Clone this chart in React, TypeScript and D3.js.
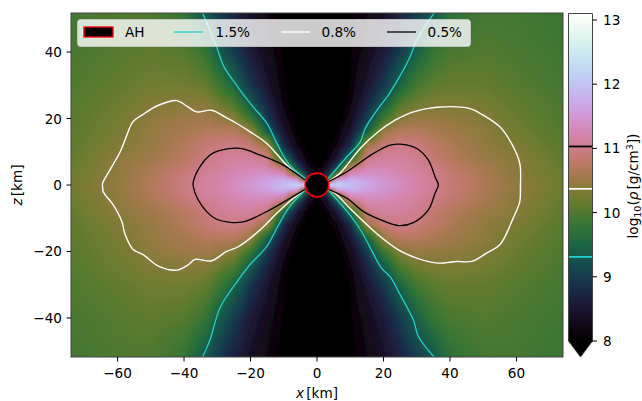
import React, { useMemo } from "react";
import * as d3 from "d3";

const xTicks = [-60, -40, -20, 0, 20, 40, 60];
const zTicks = [-40, -20, 0, 20, 40];
const cbTicks = [8, 9, 10, 11, 12, 13];
const levels = { black: 11.03, white: 10.37, cyan: 9.31 };
const ahRadius = 3.55;

// log10(rho), one quadrant (|x|, |z|), on a non-uniform mesh
const xNodes = [0, 3, 6, 10, 15, 20, 25, 30, 35, 40, 50, 60, 74];
const zNodes = [0, 1.5, 3, 5, 8, 12, 16, 20, 25, 30, 40, 52];
const densityRows = [
  [12.5, 12.4, 12.25, 11.95, 11.7, 11.5, 11.35, 11.2, 11.07, 10.9, 10.65, 10.43, 10.2],
  [8.0, 9.5, 11.6, 11.8, 11.62, 11.47, 11.33, 11.18, 11.05, 10.9, 10.65, 10.42, 10.2],
  [8.0, 8.8, 10.3, 11.4, 11.45, 11.38, 11.28, 11.15, 11.02, 10.88, 10.63, 10.4, 10.18],
  [8.0, 8.4, 9.25, 10.85, 11.25, 11.28, 11.2, 11.1, 10.98, 10.82, 10.6, 10.4, 10.15],
  [7.9, 8.1, 8.55, 9.6, 11.0, 11.12, 11.12, 11.05, 10.85, 10.72, 10.52, 10.38, 10.12],
  [7.9, 8.0, 8.2, 8.8, 10.5, 10.85, 11.0, 10.93, 10.78, 10.65, 10.45, 10.3, 10.07],
  [7.8, 7.9, 8.05, 8.5, 9.45, 10.5, 10.72, 10.72, 10.63, 10.55, 10.42, 10.23, 10.03],
  [7.7, 7.8, 7.95, 8.3, 9.0, 9.85, 10.37, 10.5, 10.48, 10.45, 10.35, 10.18, 10.0],
  [7.6, 7.7, 7.85, 8.15, 8.7, 9.31, 9.95, 10.2, 10.28, 10.3, 10.25, 10.12, 9.97],
  [7.5, 7.6, 7.8, 8.1, 8.5, 8.95, 9.5, 9.93, 10.1, 10.15, 10.15, 10.05, 9.93],
  [7.4, 7.5, 7.7, 8.05, 8.3, 8.6, 9.0, 9.45, 9.8, 9.97, 10.03, 9.97, 9.88],
  [7.3, 7.4, 7.7, 8.0, 8.2, 8.4, 8.7, 9.0, 9.31, 9.7, 9.92, 9.92, 9.83],
];
// the left half is a little denser beyond the mesh seam near x = -31.7
const seamX = -31.7;
const seamZ = [0, 8, 16, 20, 30, 52];
const seamOffset = [0.03, 0.03, 0.05, 0.07, 0.08, 0.08];

type P = [number, number];
const cyanUL: P[] = [[-34.4, 51.7], [-30.2, 41.6], [-28.2, 36], [-24.2, 30], [-19.2, 23.5], [-15.1, 18.6], [-12.1, 12.6], [-8.7, 6.6], [-3.6, 2]];
const cyanUR: P[] = [[35.2, 51.7], [30, 43.6], [28, 38.6], [24.5, 32], [21.4, 27], [18.4, 23], [14.5, 17], [13, 13], [9, 8.5], [3.4, 2]];
const cyanLL: P[] = [[-34.4, -51.7], [-32.2, -46.6], [-29.2, -37], [-24.7, -30], [-20.2, -24], [-15.1, -18.5], [-12.1, -13], [-8.6, -7], [-3.6, -1.5]];
const cyanLR: P[] = [[3.4, -1.5], [9.9, -9], [13.4, -14], [19.4, -25], [22, -27.6], [25, -33], [29, -40.6], [30.5, -45.6], [35.2, -51.7]];
const whiteL: P[] = [[-3.6, 1.5], [-9.1, 6], [-15.1, 12.5], [-20.1, 16], [-24.1, 18.5], [-27.7, 20.5], [-31.7, 22.5], [-36.2, 22], [-38.7, 23.4], [-42.2, 25.4], [-47.7, 24], [-52.7, 21], [-55.4, 19], [-57.2, 15], [-59.2, 10], [-62.3, 4.5], [-64.5, 0.5], [-64.5, -0.5], [-64.3, -2], [-61.3, -6], [-58.7, -11], [-57.7, -15], [-55.4, -19.3], [-52.2, -21], [-47.7, -24.4], [-42.2, -25.6], [-38.7, -24], [-36.7, -22.4], [-31.7, -22.8], [-27.2, -20], [-23.6, -18.5], [-17.1, -13.5], [-12.1, -8.5], [-7.1, -4], [-3.6, -1.3]];
const whiteR: P[] = [[3.4, 1], [6.9, 3.5], [13, 11], [18.4, 16], [23.5, 19.5], [29, 22], [36, 23.4], [46, 23], [50, 21], [55, 17.5], [58.5, 12.5], [61, 6.5], [61.2, -0.5], [61.2, -1.5], [61, -5], [59, -10], [55, -18], [51, -20.5], [46.5, -23], [42, -23], [36.5, -23.5], [30, -22], [24.5, -19.5], [19, -15.5], [14, -11], [10.4, -7.5], [5.4, -2.5], [3.4, -1.3]];
const blackL: P[] = [[-3.6, 1.5], [-10.1, 6], [-17.1, 9], [-23.1, 11], [-29.7, 10.3], [-32.2, 9], [-35.2, 5.5], [-37.2, 1], [-37.2, -0.5], [-36, -4], [-33.2, -8], [-30.2, -10.3], [-22.7, -11.2], [-16.1, -8.5], [-8.1, -4], [-3.6, -1.3]];
const blackR: P[] = [[3.4, 1], [9, 4], [17, 9.5], [22, 12], [25, 12.3], [30, 11], [33.5, 7.5], [35.5, 2.5], [36.5, 0], [35.5, -2.5], [33.5, -7.5], [29, -11.3], [24.5, -12.2], [20.5, -11], [14, -8], [9, -4], [3.4, -1.3]];

const FONT = "'DejaVu Sans'";
const INK = "#000";
const SPINE = "#444";
const TEXT_SIZE = 13.6;
const CYAN = "#22cfcf";

const x = d3.scaleLinear().domain([-74, 74]).range([71, 563]);
const z = d3.scaleLinear().domain([-51.75, 51.75]).range([357, 13]);
const cb = d3.scaleLinear().domain([8, 13]).range([341, 20]);
const color = d3.scaleSequential(d3.interpolateCubehelixDefault).domain([8, 13.1]).clamp(true);
const path = d3.line<P>().x((d) => x(d[0])).y((d) => z(d[1])).curve(d3.curveCatmullRom.alpha(0.5));

function fieldImage() {
  const x0 = Math.round(x(-80)), x1 = Math.round(x(80));
  const y0 = Math.round(z(58)), y1 = Math.round(z(-58));
  const w = x1 - x0, h = y1 - y0;
  const canvas = document.createElement("canvas");
  canvas.width = w;
  canvas.height = h;
  const ctx = canvas.getContext("2d")!;
  const img = ctx.createImageData(w, h);
  const rowScales = densityRows.map((r) => d3.scaleLinear().domain(xNodes).range(r).clamp(true));
  const seam = d3.scaleLinear().domain(seamZ).range(seamOffset).clamp(true);
  for (let i = 0; i < w; i++) {
    const kmX = x.invert(x0 + i + 0.5);
    const ax = Math.abs(kmX);
    const col = rowScales.map((s) => s(ax));
    const colScale = d3.scaleLinear().domain(zNodes).range(col).clamp(true);
    for (let j = 0; j < h; j++) {
      const az = Math.abs(z.invert(y0 + j + 0.5));
      const v = colScale(az) + (kmX < seamX ? seam(az) : 0);
      const c = d3.rgb(color(v) as string);
      const k = (j * w + i) * 4;
      img.data[k] = c.r;
      img.data[k + 1] = c.g;
      img.data[k + 2] = c.b;
      img.data[k + 3] = 255;
    }
  }
  ctx.putImageData(img, 0, 0);
  return { href: canvas.toDataURL("image/png"), x0, y0, w, h };
}

export default function App() {
  const field = useMemo(fieldImage, []);
  const cbRows = d3.range(13.5, 341, 1);
  const tickText = (v: number) => (v < 0 ? "\u2212" + Math.abs(v) : String(v));
  return (
    <svg width={642} height={401} style={{ position: "fixed", left: 0, top: 0 }} fontFamily={FONT}>
      <defs>
        <clipPath id="plot"><rect x={71} y={13} width={492} height={344} /></clipPath>
        <filter id="soft" x="0" y="0" width="100%" height="100%"><feGaussianBlur stdDeviation="1.3" /></filter>
      </defs>
      <rect width={642} height={401} fill="#fff" />
      <g clipPath="url(#plot)">
        <image href={field.href} x={field.x0} y={field.y0} width={field.w} height={field.h} filter="url(#soft)" />
        {[cyanUL, cyanUR, cyanLL, cyanLR].map((d, i) => (
          <path key={i} d={path(d)!} fill="none" stroke={CYAN} strokeWidth={1.3} />
        ))}
        {[whiteL, whiteR].map((d, i) => (
          <path key={i} d={path(d)!} fill="none" stroke="#fff" strokeWidth={1.4} />
        ))}
        {[blackL, blackR].map((d, i) => (
          <path key={i} d={path(d)!} fill="none" stroke="#000" strokeWidth={1.3} />
        ))}
        <circle cx={x(0)} cy={z(0)} r={x(ahRadius) - x(0)} fill="#000" stroke="#f00" strokeWidth={1.7} />
      </g>
      <rect x={71} y={13} width={492} height={344} fill="none" stroke={SPINE} strokeWidth={1} />

      {xTicks.map((t) => (
        <g key={t}>
          <line x1={x(t)} x2={x(t)} y1={357} y2={361.5} stroke={INK} strokeWidth={1} />
          <text x={x(t)} y={378} textAnchor="middle" fontSize={TEXT_SIZE} fill={INK}>{tickText(t)}</text>
        </g>
      ))}
      {zTicks.map((t) => (
        <g key={t}>
          <line x1={66.5} x2={71} y1={z(t)} y2={z(t)} stroke={INK} strokeWidth={1} />
          <text x={62} y={z(t) + 5} textAnchor="end" fontSize={TEXT_SIZE} fill={INK}>{tickText(t)}</text>
        </g>
      ))}
      <text x={317} y={397.5} textAnchor="middle" fontSize={TEXT_SIZE} fill={INK}>
        <tspan fontStyle="italic">x</tspan><tspan dx={2.2}>[km]</tspan>
      </text>
      <text transform="translate(22,185) rotate(-90)" textAnchor="middle" fontSize={TEXT_SIZE} fill={INK}>
        <tspan fontStyle="italic">z</tspan><tspan dx={2.2}>[km]</tspan>
      </text>

      <g shapeRendering="crispEdges">
        {cbRows.map((y) => (
          <rect key={y} x={568.5} y={y} width={24} height={1.2} fill={color(cb.invert(y + 0.5)) as string} />
        ))}
      </g>
      <path d="M568.5,341 L580.5,357 L592.5,341 Z" fill="#000" />
      {[["#000", levels.black], ["#fff", levels.white], [CYAN, levels.cyan]].map(([c, v]) => (
        <line key={v as number} x1={568.5} x2={592.5} y1={cb(v as number)} y2={cb(v as number)} stroke={c as string} strokeWidth={1.8} />
      ))}
      <path d="M568.5,13.5 L592.5,13.5 L592.5,341 L580.5,357 L568.5,341 Z" fill="none" stroke={SPINE} strokeWidth={1} />
      {cbTicks.map((t) => (
        <g key={t}>
          <line x1={592.5} x2={597} y1={cb(t)} y2={cb(t)} stroke={INK} strokeWidth={1} />
          <text x={603} y={cb(t) + 5} fontSize={TEXT_SIZE} fill={INK}>{t}</text>
        </g>
      ))}
      <text transform="translate(638,186) rotate(-90)" textAnchor="middle" fontSize={TEXT_SIZE} fill={INK}>
        <tspan>log</tspan><tspan fontSize={9.5} dy={2.5}>10</tspan><tspan dy={-2.5}>(</tspan>
        <tspan fontStyle="italic">ρ</tspan><tspan dx={2.2}>[g/cm</tspan><tspan fontSize={9.5} dy={-5}>3</tspan><tspan dy={5}>])</tspan>
      </text>

      <rect x={77.5} y={19.5} width={393} height={27} rx={3} fill="#fff" fillOpacity={0.8} stroke="#ccc" strokeOpacity={0.8} />
      <rect x={84} y={27} width={29} height={10} fill="#000" stroke="#f00" strokeWidth={1.3} />
      <text x={125} y={37} fontSize={TEXT_SIZE} fill={INK}>AH</text>
      <line x1={174} x2={203} y1={32} y2={32} stroke={CYAN} strokeWidth={1.3} />
      <text x={215.5} y={37} fontSize={TEXT_SIZE} fill={INK}>1.5%</text>
      <line x1={281} x2={310} y1={32} y2={32} stroke="#fff" strokeWidth={1.4} />
      <text x={321.5} y={37} fontSize={TEXT_SIZE} fill={INK}>0.8%</text>
      <line x1={387} x2={416} y1={32} y2={32} stroke="#000" strokeWidth={1.3} />
      <text x={427.5} y={37} fontSize={TEXT_SIZE} fill={INK}>0.5%</text>
    </svg>
  );
}
